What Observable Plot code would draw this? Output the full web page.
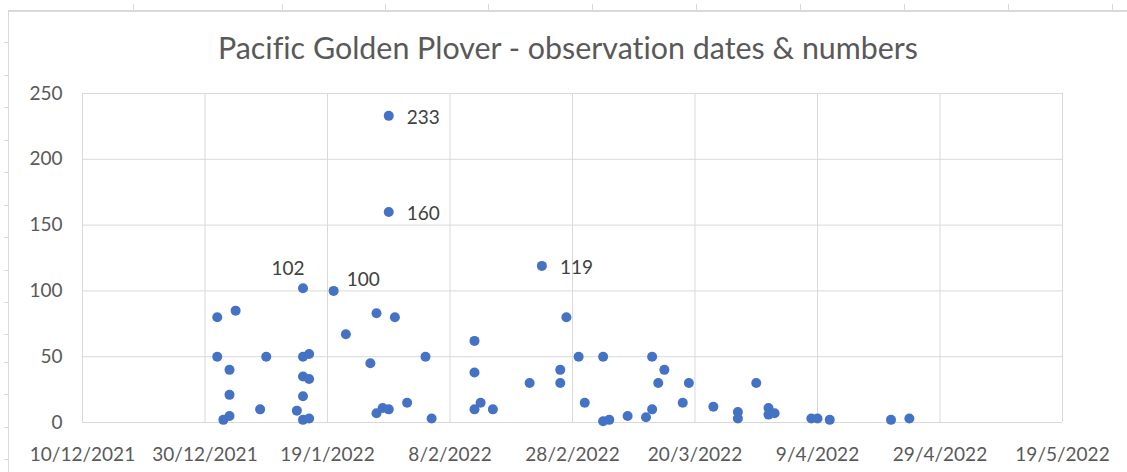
<!DOCTYPE html>
<html><head><meta charset="utf-8">
<script src="https://cdn.jsdelivr.net/npm/d3@7"></script>
<script src="https://cdn.jsdelivr.net/npm/@observablehq/plot@0.6"></script>
<style>
html,body{margin:0;padding:0;background:#fff;}
#wrap{position:relative;width:1127px;height:472px;overflow:hidden;font-family:Lato,sans-serif;background:#fff;font-variant-ligatures:none;}
#plot{position:absolute;left:0;top:0;}
#title{position:absolute;left:9px;right:0;top:32px;line-height:30px;text-align:center;font-size:30.4px;color:#595959;white-space:nowrap;font-variant-ligatures:none;}
.deco{position:absolute;background:#d9d9d9;}
</style></head><body>
<div id="wrap">
  <div id="plot"></div>
  <div id="title">Pacific Golden Plover - observation dates &amp; numbers</div>
</div>
<script>
// observation dates and bird counts
const obsDates = [
  "2022-01-01","2022-01-01","2022-01-02","2022-01-03","2022-01-03","2022-01-03","2022-01-04",
  "2022-01-08","2022-01-09","2022-01-14","2022-01-15","2022-01-15","2022-01-15","2022-01-15","2022-01-15",
  "2022-01-16","2022-01-16","2022-01-16","2022-01-20","2022-01-22","2022-01-26","2022-01-27","2022-01-27",
  "2022-01-28","2022-01-29","2022-01-29","2022-01-29","2022-01-30","2022-02-01","2022-02-04","2022-02-05",
  "2022-02-12","2022-02-12","2022-02-12","2022-02-13","2022-02-15","2022-02-21","2022-02-23",
  "2022-02-26","2022-02-26","2022-02-27","2022-03-01","2022-03-02","2022-03-05","2022-03-05","2022-03-06",
  "2022-03-09","2022-03-12","2022-03-13","2022-03-13","2022-03-14","2022-03-15","2022-03-18","2022-03-19",
  "2022-03-23","2022-03-27","2022-03-27","2022-03-30","2022-04-01","2022-04-01","2022-04-02",
  "2022-04-08","2022-04-09","2022-04-11","2022-04-21","2022-04-24"
];
const obsCounts = [
  80,50,2,40,21,5,85,
  10,50,9,102,50,35,20,2,
  52,33,3,100,67,45,83,7,
  11,233,160,10,80,15,50,3,
  62,38,10,15,10,30,119,
  40,30,80,50,15,50,1,2,
  5,4,50,10,30,40,15,30,
  12,8,3,30,11,6,7,
  3,3,2,2,3
];
const labelRight = [233,160,119];
const labelAboveLeft = [102];
const labelAboveRight = [100];
const xTickDates = ["2021-12-10","2021-12-30","2022-01-19","2022-02-08","2022-02-28","2022-03-20","2022-04-09","2022-04-29","2022-05-19"];
const yTickValues = [0,50,100,150,200,250];

const toDate = s => new Date(s + "T00:00:00Z");
const data = obsDates.map((d,i) => ({date: toDate(d), count: obsCounts[i]}));
const xTicks = xTickDates.map(toDate);
const fmt = d => `${d.getUTCDate()}/${d.getUTCMonth()+1}/${d.getUTCFullYear()}`;
const grid = "#d9d9d9";

const chart = Plot.plot({
  width: 1127, height: 472,
  marginLeft: 82, marginRight: 65, marginTop: 93, marginBottom: 50,
  style: {fontFamily: "Lato, sans-serif", fontSize: "19px", color: "#595959", background: "transparent", overflow: "visible"},
  x: {type: "utc", domain: [xTicks[0], xTicks[xTicks.length-1]], ticks: xTicks, tickFormat: fmt, tickSize: 0, tickPadding: 25, label: null},
  y: {domain: [0,250], ticks: yTickValues, tickSize: 0, tickPadding: 20, label: null},
  marks: [
    Plot.ruleX(xTicks, {stroke: grid, strokeWidth: 1}),
    Plot.ruleY(yTickValues, {stroke: grid, strokeWidth: 1}),
    Plot.dot(data, {x: "date", y: "count", r: 5, fill: "#4472C4", stroke: "none"}),
    Plot.text(data.filter(d => labelRight.includes(d.count)), {x: "date", y: "count", text: d => String(d.count), textAnchor: "start", dx: 18, dy: 2, fill: "#404040", fontSize: 19}),
    Plot.text(data.filter(d => labelAboveLeft.includes(d.count)), {x: "date", y: "count", text: d => String(d.count), textAnchor: "middle", dx: -15, dy: -19, fill: "#404040", fontSize: 19}),
    Plot.text(data.filter(d => labelAboveRight.includes(d.count)), {x: "date", y: "count", text: d => String(d.count), textAnchor: "start", dx: 13, dy: -11, fill: "#404040", fontSize: 19})
  ]
});
document.getElementById("plot").appendChild(chart);

// spreadsheet background decorations (sheet border and row/column markers)
const wrap = document.getElementById("wrap");
function deco(l,t,w,h){const e=document.createElement("div");e.className="deco";e.style.left=l+"px";e.style.top=t+"px";e.style.width=w+"px";e.style.height=h+"px";wrap.appendChild(e);}
deco(8,10,1119,2);
deco(8,10,1,462);
[133,282,385,488,592,696,800,904,1008,1112].forEach(x=>deco(x,4,1,6));
[42,75,107,140,172,205,237,270,302,334,362,394,427,459].forEach(y=>deco(4,y,4,1));
</script>
</body></html>
